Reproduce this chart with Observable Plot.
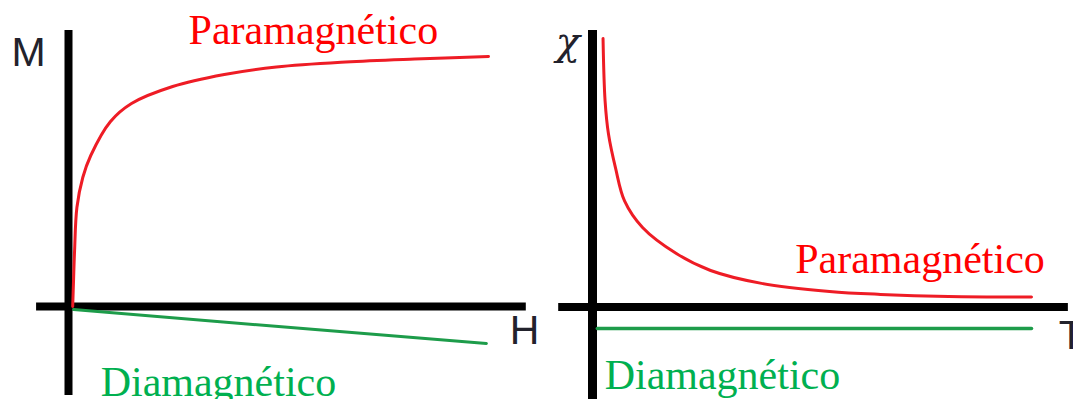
<!DOCTYPE html>
<html>
<head>
<meta charset="utf-8">
<script src="https://cdn.jsdelivr.net/npm/d3@7"></script>
<script src="https://cdn.jsdelivr.net/npm/@observablehq/plot@0.6"></script>
<style>
  html, body { margin: 0; padding: 0; background: #fff; }
  #charts { display: flex; width: 1073px; height: 399px; overflow: hidden; }
  #charts svg { flex: none; }
</style>
</head>
<body>
<div id="charts"></div>
<script>
// Magnetization M versus applied field H
const fieldH     = [1.0, 1.2, 1.45, 2.0, 3.4, 5.3, 10, 15, 24.8, 37.1, 49.5, 66, 82.4, 100];
const paraM      = [0, 0.104, 0.224, 0.396, 0.516, 0.604, 0.74, 0.812, 0.88, 0.928, 0.958, 0.978, 0.99, 1.0];
const diaFieldH  = [1.2, 50, 99.5];
const diaM       = [-0.012, -0.08, -0.148];

// Susceptibility chi versus temperature T
const tempT      = [2.4, 2.87, 3.64, 5.24, 7.3, 11.4, 19.1, 26.9, 38.5, 54, 65.6, 81.1, 100];
const paraChi    = [1.0, 0.767, 0.644, 0.518, 0.395, 0.296, 0.199, 0.136, 0.088, 0.058, 0.047, 0.039, 0.037];
const diaTempT   = [1.1, 100];
const diaChi     = [-0.08, -0.08];

// Axis extents (data units) and labels
const mAxisH = [-7.6, 109],  mAxisM = [-0.356, 1.104];
const chiAxisT = [-7.7, 108.4], chiAxisChi = [-0.35, 1.03];
const paraLabel = "Paramagnético";
const diaLabel = "Diamagnético";

const RED = "#ee1c25", RED_TEXT = "#ff0000";
const GREEN = "#1d9c4a", GREEN_TEXT = "#00b050";
const SERIF = "'Liberation Serif', 'Times New Roman', serif";
const SANS = "'Liberation Sans', Arial, sans-serif";
const INK = "#22222c";

const toPoints = (xs, ys) => xs.map((x, i) => ({x, y: ys[i]}));

const left = Plot.plot({
  width: 540, height: 399,
  marginLeft: 68, marginRight: 52, marginTop: 56, marginBottom: 93,
  x: {domain: [0, 100], axis: null},
  y: {domain: [0, 1], axis: null},
  style: {background: "white", overflow: "hidden"},
  marks: [
    Plot.ruleY([0], {x1: mAxisH[0], x2: mAxisH[1], stroke: "#000", strokeWidth: 8}),
    Plot.ruleX([0], {y1: mAxisM[0], y2: mAxisM[1], stroke: "#000", strokeWidth: 8}),
    Plot.line(toPoints(fieldH, paraM), {x: "x", y: "y", stroke: RED, strokeWidth: 3, curve: "catmull-rom"}),
    Plot.line(toPoints(diaFieldH, diaM), {x: "x", y: "y", stroke: GREEN, strokeWidth: 3}),
    Plot.text([paraLabel], {x: 58.3, y: 1.052, text: d => d, fill: RED_TEXT, fontSize: 42, fontFamily: SERIF, textAnchor: "middle", lineAnchor: "bottom"}),
    Plot.text([diaLabel], {x: 35.7, y: -0.356, text: d => d, fill: GREEN_TEXT, fontSize: 42, fontFamily: SERIF, textAnchor: "middle", lineAnchor: "bottom"}),
    Plot.text(["M"], {x: -9.5, y: 0.964, text: d => d, fill: INK, fontSize: 41, fontFamily: SANS, textAnchor: "middle", lineAnchor: "bottom"}),
    Plot.text(["H"], {x: 108.6, y: -0.148, text: d => d, fill: INK, fontSize: 41, fontFamily: SANS, textAnchor: "middle", lineAnchor: "bottom"})
  ]
});

const right = Plot.plot({
  width: 533, height: 399,
  marginLeft: 52, marginRight: 42, marginTop: 38, marginBottom: 92.5,
  x: {domain: [0, 100], axis: null},
  y: {domain: [0, 1], axis: null},
  style: {background: "white", overflow: "hidden"},
  marks: [
    Plot.ruleY([0], {x1: chiAxisT[0], x2: chiAxisT[1], stroke: "#000", strokeWidth: 8}),
    Plot.ruleX([0], {y1: chiAxisChi[0], y2: chiAxisChi[1], stroke: "#000", strokeWidth: 9}),
    Plot.line(toPoints(tempT, paraChi), {x: "x", y: "y", stroke: RED, strokeWidth: 3, curve: "catmull-rom"}),
    Plot.line(toPoints(diaTempT, diaChi), {x: "x", y: "y", stroke: GREEN, strokeWidth: 3.5}),
    Plot.text([paraLabel], {x: 74.6, y: 0.125, text: d => d, fill: RED_TEXT, fontSize: 42, fontFamily: SERIF, textAnchor: "middle", lineAnchor: "bottom"}),
    Plot.text([diaLabel], {x: 29.6, y: -0.304, text: d => d, fill: GREEN_TEXT, fontSize: 42, fontFamily: SERIF, textAnchor: "middle", lineAnchor: "bottom"}),
    Plot.text(["χ"], {x: -5.6, y: 0.94, text: d => d, fill: INK, fontSize: 40, fontFamily: "'DejaVu Serif', serif", fontStyle: "italic", textAnchor: "middle", lineAnchor: "bottom"}),
    Plot.text(["T"], {x: 106.2, y: -0.158, text: d => d, fill: INK, fontSize: 41, fontFamily: SANS, textAnchor: "start", lineAnchor: "bottom"})
  ]
});

const host = document.getElementById("charts");
host.append(left, right);
</script>
</body>
</html>
